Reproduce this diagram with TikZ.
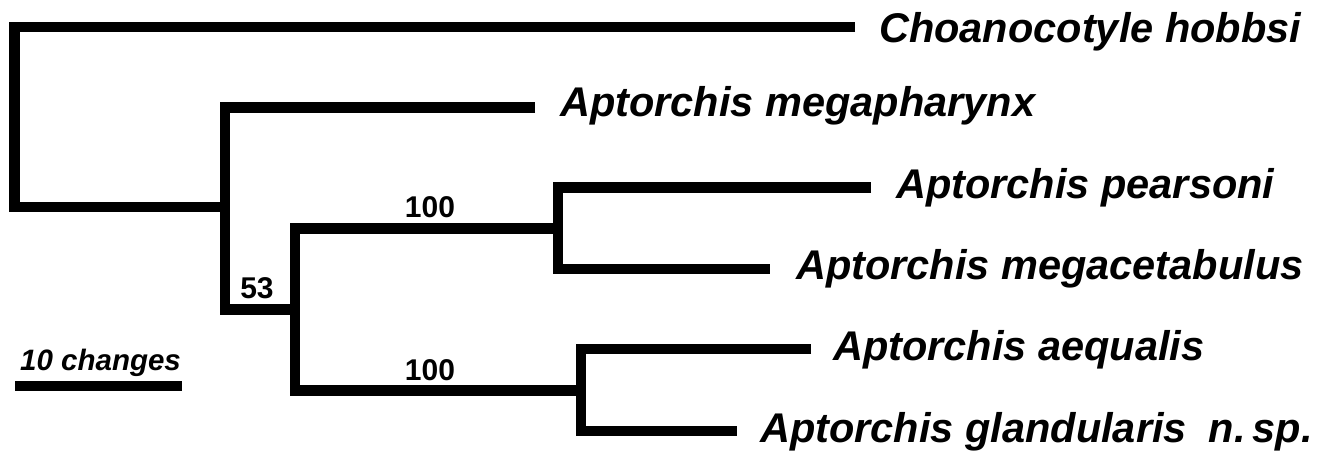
\documentclass[tikz,border=0pt]{standalone}
\usepackage{fontspec}
\setmainfont{Liberation Sans}
\begin{document}
\begin{tikzpicture}[x=1pt,y=-1pt,
  branch/.style={line width=10.7pt,line join=miter,line cap=butt},
  taxon/.style={anchor=base west,inner sep=0pt,
    font=\fontsize{41.5}{44}\selectfont\bfseries\itshape},
  support/.style={anchor=base,inner sep=0pt,
    font=\fontsize{30}{32}\selectfont\bfseries},
  scalelabel/.style={anchor=base west,inner sep=0pt,
    font=\fontsize{29.5}{32}\selectfont\bfseries\itshape}]
\useasboundingbox (0,0) rectangle (1321,450);

% internal nodes (points where each vertical bar meets its parent branch)
\coordinate (n1) at (14.5,207);
\coordinate (n2) at (225,207);
\coordinate (n3) at (295,309.5);
\coordinate (n4) at (558,228.5);
\coordinate (n5) at (581,390.5);

% tip ends
\coordinate (tchoa) at (855,27);
\coordinate (tmph)  at (535,107.5);
\coordinate (tpear) at (871,187.5);
\coordinate (tmcet) at (770,269);
\coordinate (taeq)  at (811,349);
\coordinate (tglan) at (737,431);

% branches
\draw[branch] (tchoa) -| (n1) -- (n2);
\draw[branch] (tmph) -| (n2) |- (n3);
\draw[branch] (n4) -| (n3) |- (n5);
\draw[branch] (tpear) -| (n4) |- (tmcet);
\draw[branch] (taeq) -| (n5) |- (tglan);

% taxon names
\node[taxon] (lchoa) at (879,42)  {Choanocotyle hobbsi};
\node[taxon] (lmph)  at (560,116) {Aptorchis megapharynx};
\node[taxon] (lpear) at (896,198) {Aptorchis pearsoni};
\node[taxon] (lmcet) at (796,279) {Aptorchis megacetabulus};
\node[taxon] (laeq)  at (833,360) {Aptorchis aequalis};
\node[taxon] (lglan) at (760,442) {Aptorchis glandularis\hspace{22pt}n.\,sp.};

% support values
\node[support] (s53)  at (257,298) {53};
\node[support] (s100a) at (430,217) {100};
\node[support] (s100b) at (430,380) {100};

% scale bar
\coordinate (sbl) at (15,385.7);
\coordinate (sbr) at (182,385.7);
\draw[line width=10pt] (sbl) -- (sbr);
\node[scalelabel] (sbtext) at (20,370) {10 changes};
\end{tikzpicture}
\end{document}
